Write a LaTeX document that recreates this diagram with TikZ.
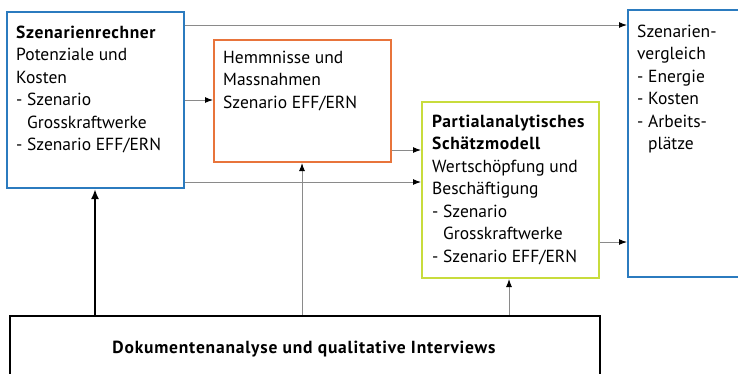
\documentclass[tikz,border=0pt]{standalone}
\usepackage{fontspec}
\setmainfont{PT Sans}
\newfontface\bfbox{PT Sans Bold}[LetterSpace=3.5]
\newfontface\bfbottom{PT Sans Bold}[LetterSpace=4.5]
\usetikzlibrary{arrows.meta}
\definecolor{cblue}{HTML}{2B7BBF}
\definecolor{corange}{HTML}{E8743B}
\definecolor{cgreen}{HTML}{C8DC3C}
\definecolor{cgray}{HTML}{8A8A8A}
\tikzset{
  box/.style={draw, line width=2pt, inner sep=0pt, fill=white},
  conn/.style={draw=cgray, line width=1pt, -{Latex[black,length=8pt,width=6pt]}},
  thickconn/.style={draw=black, line width=2.5pt, -{Latex[black,length=10pt,width=8pt]}},
  txt/.style={anchor=base west, inner sep=0pt, font=\fontsize{17.5}{22.5}\selectfont},
}
\newcommand{\tb}[1]{\begin{tabular}[t]{@{}l@{}}#1\end{tabular}}
\newcommand{\ind}{\hphantom{- }}
\newcommand{\hb}[1]{{\bfbox #1}}
\begin{document}
\begin{tikzpicture}[x=1pt,y=-1pt]
\useasboundingbox (0,0) rectangle (738,373);
\clip (0,0) rectangle (738,373);
\node[box, draw=cblue, minimum width=177pt, minimum height=176pt] (rech) at (95.5,100) {};
\node[box, draw=corange, minimum width=177pt, minimum height=122pt] (hemm) at (302.5,101) {};
\node[box, draw=cgreen, minimum width=177pt, minimum height=176pt] (part) at (510.5,190) {};
\node[box, draw=cblue, minimum width=132pt, minimum height=267pt] (verg) at (694,143.5) {};
\node[box, draw=black, line width=2.5pt, minimum width=590pt, minimum height=84pt] (doku) at (305,358) {};

\node[txt] (t1) at (16,38) {\tb{\hb{Szenarienrechner}\\Potenziale und\\Kosten\\- Szenario\\\ind Grosskraftwerke\\- Szenario EFF/ERN}};
\node[txt] (t2) at (223,63) {\tb{Hemmnisse und\\Massnahmen\\Szenario EFF/ERN}};
\node[txt] (t3) at (432,127) {\tb{\hb{Partialanalytisches}\\\hb{Schätzmodell}\\Wertschöpfung und\\Beschäftigung\\- Szenario\\\ind Grosskraftwerke\\- Szenario EFF/ERN}};
\node[txt] (t4) at (637,37) {\tb{Szenarien-\\vergleich\\- Energie\\- Kosten\\- Arbeits-\\\ind plätze}};
\node[anchor=base, inner sep=0pt, font=\fontsize{17.5}{22.5}\selectfont\bfbottom] (t5) at (304,353) {Dokumentenanalyse und qualitative Interviews};

\draw[conn] (rech.east |- 0,25) -- (verg.west |- 0,25);
\draw[conn] (rech.east |- 0,100) -- (hemm.west |- 0,100);
\draw[conn] (rech.east |- 0,182) -- (part.west |- 0,182);
\draw[conn] (hemm.east |- 0,150) -- (part.west |- 0,150);
\draw[conn] (part.east |- 0,242) -- (verg.west |- 0,242);
\draw[thickconn] (doku.north -| 95,0) -- (rech.south -| 95,0);
\draw[conn] (doku.north -| 302,0) -- (hemm.south -| 302,0);
\draw[conn] (doku.north -| 509,0) -- (part.south -| 509,0);
\end{tikzpicture}
\end{document}
